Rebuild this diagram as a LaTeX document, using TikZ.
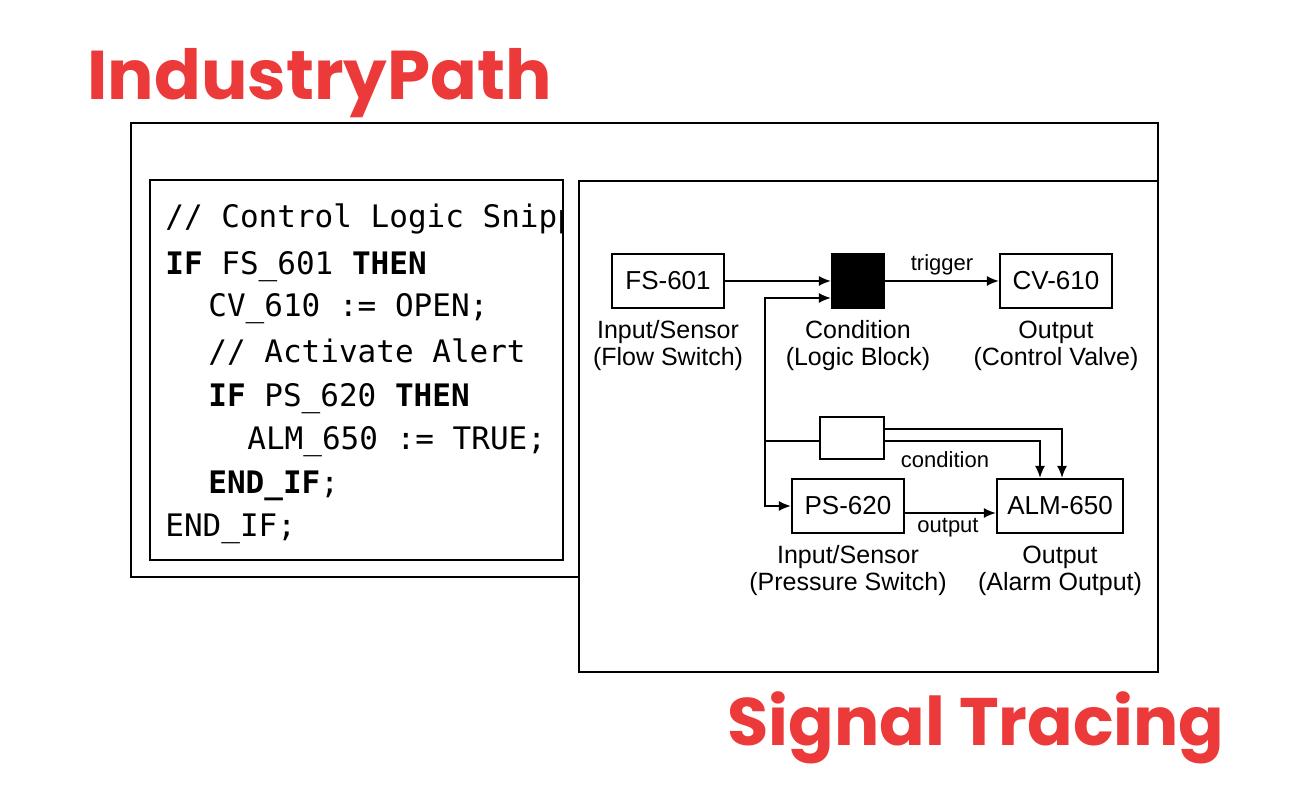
\documentclass[tikz,border=0pt]{standalone}
\usepackage{fontspec}
\setmainfont{Liberation Sans}
\newfontfamily\titlefont{Poppins}
\newfontfamily\codefont{DejaVu Sans Mono}
\usetikzlibrary{arrows.meta}
\definecolor{brandred}{RGB}{236,58,58}
\tikzset{
  blk/.style={draw,line width=1.1pt,minimum width=56pt,minimum height=27pt,inner sep=0pt,font=\fontsize{13}{13}\selectfont},
  sub/.style={align=center,font=\fontsize{12.5}{13.5}\selectfont},
  lbl/.style={font=\fontsize{11}{11}\selectfont},
  code/.style={anchor=base west,inner sep=0pt,font=\codefont\fontsize{15.5}{15.5}\selectfont},
  wire/.style={line width=0.8pt,-{Latex[length=6pt,width=5pt]}}
}
\begin{document}
\begin{tikzpicture}[x=0.5pt,y=-0.5pt,>=latex]
    \useasboundingbox (0,0) rectangle (1290,795);
    % titles
    \node[anchor=base west,inner sep=0pt,text=brandred,font=\titlefont\bfseries\fontsize{34.5}{35}\selectfont] (title) at (87,100) {IndustryPath};
    \node[anchor=base east,inner sep=0pt,text=brandred,font=\titlefont\bfseries\fontsize{33.6}{35}\selectfont] (subtitle) at (1225,746) {Signal Tracing};
    % frames
    \draw[line width=1pt] (579,577) -- (131,577) -- (131,123) -- (1158,123) -- (1158,181);
    \draw[line width=1pt] (579,181) rectangle (1158,672);
    \draw[line width=1.3pt] (150,180) rectangle (563,560);
    % code
    \begin{scope}
        \clip (152,182) rectangle (561,558);
        \foreach \y/\x/\txt in {228/165/{// Control Logic Snippet},
                               275/165/{\textbf{IF} FS\_601 \textbf{THEN}},
                               317/208/{CV\_610 := OPEN;},
                               363/208/{// Activate Alert},
                               407/208/{\textbf{IF} PS\_620 \textbf{THEN}},
                               450/247/{ALM\_650 := TRUE;},
                               494/208/{\textbf{END\_IF};},
                               537/165/{END\_IF;}}
        {
            \node[code] at (\x,\y) {\txt};
        }
    \end{scope}
    % diagram blocks
    \node[blk] (fs) at (668,281) {FS-601};
    \node[blk,fill=black,minimum width=26pt] (cond) at (858,281) {};
    \node[blk] (cv) at (1056,281) {CV-610};
    \node[blk] (ps) at (848,506) {PS-620};
    \node[blk,minimum width=63pt] (alm) at (1060,506) {ALM-650};
    \node[blk,minimum width=32pt,minimum height=21pt] (gate) at (852,438) {};
    \node[sub] at (668,346) {Input/Sensor\\(Flow Switch)};
    \node[sub] at (858,346) {Condition\\(Logic Block)};
    \node[sub] at (1056,346) {Output\\(Control Valve)};
    \node[sub] at (848,571) {Input/Sensor\\(Pressure Switch)};
    \node[sub] at (1060,571) {Output\\(Alarm Output)};
    % connectors
    \coordinate (split) at (765,441);
    \draw[wire] (fs) -- (cond);
    \draw[wire] (cond) -- node[lbl,above=-1pt]{trigger} (cv);
    \draw[wire] (split) |- ([yshift=-8.5pt]cond.west);
    \draw[wire] (split) |- (ps);
    \draw[line width=0.8pt] (split) -- (gate.west |- split);
    \draw[wire] (gate.east |- split) -| ([xshift=-10pt]alm.north);
    \draw[wire] ([yshift=6pt]gate.east |- split) -| ([xshift=1pt]alm.north);
    \node[lbl] at (945,460) {condition};
    \node[lbl] at (948,528) {output};
    \draw[wire] ([yshift=-3.5pt]ps.east) -- ([yshift=-3.5pt]ps.east -| alm.west);
\end{tikzpicture}
\end{document}
